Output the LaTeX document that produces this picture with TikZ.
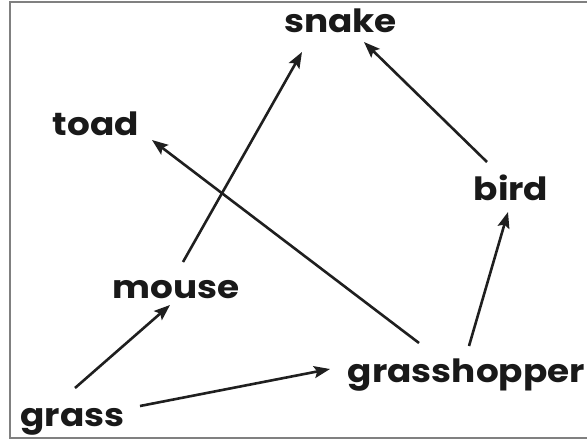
\documentclass[tikz,border=0pt]{standalone}
\usepackage{fontspec}
\newfontfamily\labfont{Poppins}
\usetikzlibrary{arrows.meta}
\newcommand{\lbl}[1]{\scalebox{1.12}[1]{#1}}
\begin{document}
\begin{tikzpicture}[x=1pt,y=1pt,
  lab/.style={inner sep=0pt, anchor=base, font=\labfont\bfseries\fontsize{32}{38}\selectfont, text=black!90},
  arr/.style={line width=2.6pt, draw=black!88, -{Stealth[length=16pt,width=12pt,inset=3pt]}},
  frame/.style={draw=black!50, line width=2.6pt}]
\useasboundingbox (0,0) rectangle (587,-445);
\draw[frame] (10,-2) rectangle (600,-438);
\node[lab] (snake) at (340.5,-32) {\lbl{snake}};
\node[lab] (toad) at (96,-135) {\lbl{toad}};
\node[lab] (bird) at (511,-200) {\lbl{bird}};
\node[lab] (mouse) at (176,-298) {\lbl{mouse}};
\node[lab] (gh) at (466.5,-382) {\lbl{grasshopper}};
\node[lab] (grass) at (72.5,-426) {\lbl{grass}};
\draw[arr] ([shift={(2.5,38)}]grass.base) -- ([shift={(-6,-7)}]mouse.base);
\draw[arr] ([shift={(67.5,20)}]grass.base) -- ([shift={(-136.5,13)}]gh.base);
\draw[arr] ([shift={(7,36)}]mouse.base) -- ([shift={(-38.5,-20)}]snake.base);
\draw[arr] ([shift={(-47.5,39)}]gh.base) -- ([shift={(56,-5)}]toad.base);
\draw[arr] ([shift={(2.5,36)}]gh.base) -- ([shift={(-3,-12)}]bird.base);
\draw[arr] ([shift={(-24,38)}]bird.base) -- ([shift={(23.5,-10)}]snake.base);
\end{tikzpicture}
\end{document}
